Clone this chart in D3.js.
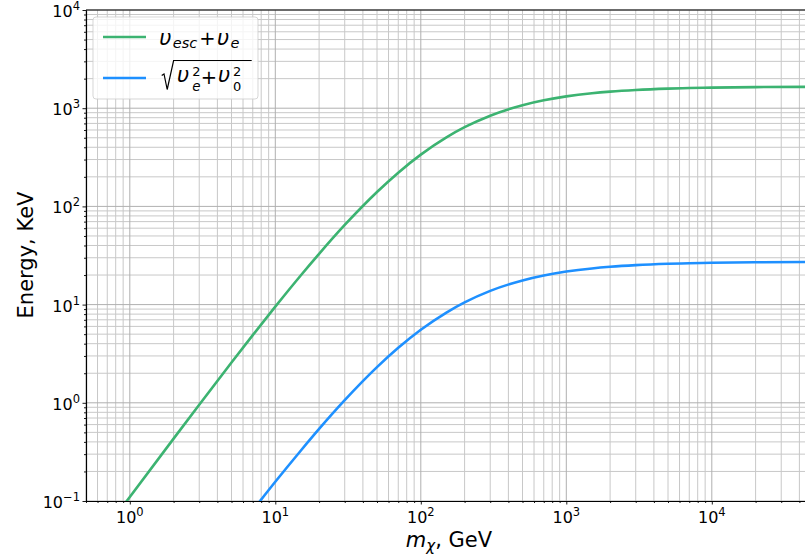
<!DOCTYPE html>
<html>
<head>
<meta charset="utf-8">
<script src="https://cdn.jsdelivr.net/npm/d3@7"></script>
<style>
  html, body { margin: 0; padding: 0; background: #fff; }
  svg { display: block; font-family: "DejaVu Sans", sans-serif; }
</style>
</head>
<body>
<svg id="chart" width="805" height="557"></svg>
<script>
// ---- data ----
const massGreen = [0.5, 1, 2, 3, 5, 7, 10, 15, 20, 30, 50, 70, 100, 150, 200, 300, 500, 700, 1000, 1500, 2000, 3000, 5000, 7000, 10000, 20000, 50000];
const energyGreen = [0.0277, 0.110, 0.432, 0.956, 2.57, 4.89, 9.53, 19.9, 32.9, 64.7, 140.3, 220.7, 336.8, 504.8, 640.4, 839.0, 1072.7, 1203.8, 1318.6, 1419.7, 1474.6, 1532.8, 1581.8, 1603.6, 1620.2, 1639.9, 1651.9];
const massBlue = [5, 7, 10, 15, 20, 30, 50, 70, 100, 150, 200, 300, 500, 700, 1000, 1500, 2000, 3000, 5000, 7000, 10000, 20000, 50000];
const energyBlue = [0.0423, 0.0804, 0.157, 0.327, 0.542, 1.063, 2.307, 3.629, 5.539, 8.302, 10.53, 13.80, 17.64, 19.80, 21.69, 23.35, 24.25, 25.21, 26.02, 26.37, 26.65, 26.97, 27.17];
const xMajorTicks = [1, 10, 100, 1000, 10000];
const xMajorExp = ["0", "1", "2", "3", "4"];
const yMajorTicks = [0.1, 1, 10, 100, 1000, 10000];
const yMajorExp = ["\u22121", "0", "1", "2", "3", "4"];
const xLabel = "GeV";
const yLabel = "Energy, KeV";

// ---- layout ----
const svg = d3.select("#chart");
const L = 86, T = 10, B = 501;
const x = d3.scaleLog().domain([0.5, 5e4]).range([L, L + 145.5 * 5]);
const y = d3.scaleLog().domain([0.1, 1e4]).range([B, T]);
const R = x(5e4);

function minorVals(lo, hi) {
  const out = [];
  for (let e = -2; e <= 5; e++) {
    for (let k = 1; k <= 9; k++) {
      const v = k * Math.pow(10, e);
      if (v >= lo * 0.9999 && v <= hi * 1.0001) out.push(v);
    }
  }
  return out;
}
const xMinor = minorVals(0.5, 5e4).filter(v => !xMajorTicks.some(t => Math.abs(t - v) / t < 1e-6));
const yMinor = minorVals(0.1, 1e4).filter(v => !yMajorTicks.some(t => Math.abs(t - v) / t < 1e-6));

// grid
const grid = svg.append("g");
grid.selectAll("line.xm").data(xMinor).enter().append("line")
  .attr("x1", d => x(d)).attr("x2", d => x(d)).attr("y1", T).attr("y2", B)
  .attr("stroke", "#c8c8c8").attr("stroke-width", 1);
grid.selectAll("line.ym").data(yMinor).enter().append("line")
  .attr("x1", L).attr("x2", R).attr("y1", d => y(d)).attr("y2", d => y(d))
  .attr("stroke", "#c8c8c8").attr("stroke-width", 1);
grid.selectAll("line.xM").data(xMajorTicks).enter().append("line")
  .attr("x1", d => x(d)).attr("x2", d => x(d)).attr("y1", T).attr("y2", B)
  .attr("stroke", "#b0b0b0").attr("stroke-width", 1);
grid.selectAll("line.yM").data(yMajorTicks).enter().append("line")
  .attr("x1", L).attr("x2", R).attr("y1", d => y(d)).attr("y2", d => y(d))
  .attr("stroke", "#b0b0b0").attr("stroke-width", 1);

// clip
svg.append("clipPath").attr("id", "clip").append("rect")
  .attr("x", L).attr("y", T).attr("width", R - L).attr("height", B - T);

const line = d3.line().x(d => x(d[0])).y(d => y(d[1])).curve(d3.curveMonotoneX);
const plot = svg.append("g").attr("clip-path", "url(#clip)");
plot.append("path").datum(massGreen.map((m, i) => [m, energyGreen[i]]))
  .attr("d", line).attr("fill", "none").attr("stroke", "#3cb371").attr("stroke-width", 2.6);
plot.append("path").datum(massBlue.map((m, i) => [m, energyBlue[i]]))
  .attr("d", line).attr("fill", "none").attr("stroke", "#1e90ff").attr("stroke-width", 2.6);

// axes
const xAxisMinor = d3.axisBottom(x).tickValues(xMinor).tickFormat("").tickSize(2).tickSizeOuter(0);
const xAxisMajor = d3.axisBottom(x).tickValues(xMajorTicks).tickFormat("").tickSize(3.5).tickSizeOuter(0);
const yAxisMinor = d3.axisLeft(y).tickValues(yMinor).tickFormat("").tickSize(2).tickSizeOuter(0);
const yAxisMajor = d3.axisLeft(y).tickValues(yMajorTicks).tickFormat("").tickSize(3.5).tickSizeOuter(0);

function styleAxis(g) {
  g.selectAll("path.domain").attr("stroke", "#000").attr("stroke-width", 1.1);
  g.selectAll(".tick line").attr("stroke", "#000").attr("stroke-width", 0.9);
}
svg.append("g").attr("transform", `translate(0,${B})`).call(xAxisMinor).call(styleAxis);
svg.append("g").attr("transform", `translate(0,${B})`).call(xAxisMajor).call(styleAxis);
svg.append("g").attr("transform", `translate(${L},0)`).call(yAxisMinor).call(styleAxis);
svg.append("g").attr("transform", `translate(${L},0)`).call(yAxisMajor).call(styleAxis);
// top spine
svg.append("line").attr("x1", L).attr("x2", R).attr("y1", T).attr("y2", T)
  .attr("stroke", "#000").attr("stroke-width", 1.1);

// tick labels
const xl = svg.append("g").attr("font-size", 16).attr("fill", "#000");
xMajorTicks.forEach((v, i) => {
  const t = xl.append("text").attr("x", x(v)).attr("y", 523).attr("text-anchor", "middle");
  t.append("tspan").text("10");
  t.append("tspan").attr("font-size", 11.5).attr("dy", -7).text(xMajorExp[i]);
});
const yl = svg.append("g").attr("font-size", 16).attr("fill", "#000");
yMajorTicks.forEach((v, i) => {
  const t = yl.append("text").attr("x", 80).attr("y", y(v) + 7).attr("text-anchor", "end");
  t.append("tspan").text("10");
  t.append("tspan").attr("font-size", 11.5).attr("dy", -7).text(yMajorExp[i]);
});

// axis labels
const xt = svg.append("text").attr("x", 449).attr("y", 547).attr("text-anchor", "middle")
  .attr("font-size", 21).attr("fill", "#000");
xt.append("tspan").attr("font-style", "italic").text("m");
xt.append("tspan").attr("font-style", "italic").attr("font-size", 15).attr("dy", 4).text("\u03c7");
xt.append("tspan").attr("dy", -4).text(", " + xLabel);

svg.append("text").attr("transform", `translate(33,255) rotate(-90)`)
  .attr("text-anchor", "middle").attr("font-size", 21).attr("fill", "#000").text(yLabel);

// legend
const lg = svg.append("g").attr("fill", "#000");
lg.append("rect").attr("x", 93).attr("y", 17).attr("width", 165).attr("height", 82)
  .attr("rx", 3).attr("fill", "#fff").attr("fill-opacity", 0.8)
  .attr("stroke", "#cccccc").attr("stroke-opacity", 0.8).attr("stroke-width", 1);
lg.append("line").attr("x1", 103).attr("x2", 146).attr("y1", 37).attr("y2", 37)
  .attr("stroke", "#3cb371").attr("stroke-width", 2.6);
lg.append("line").attr("x1", 103).attr("x2", 146).attr("y1", 78).attr("y2", 78)
  .attr("stroke", "#1e90ff").attr("stroke-width", 2.6);

function piece(cx, py, txt, size, italic) {
  lg.append("text").attr("x", cx).attr("y", py).attr("font-size", size)
    .attr("text-anchor", "middle")
    .attr("font-style", italic ? "italic" : "normal").text(txt);
}
// first entry: υ_esc + υ_e
piece(165.3, 45, "\u03c5", 21, true);
piece(185, 47.5, "esc", 14.5, true);
piece(207.5, 45, "+", 19.5, false);
piece(223, 45, "\u03c5", 21, true);
piece(235, 47.5, "e", 14.5, true);

// second entry: sqrt(υ_e^2 + υ_0^2)
lg.append("path").attr("d", "M161.7,75.5 L164,74 L167.2,89.5 L173.6,60.5 L251.7,60.5")
  .attr("fill", "none").attr("stroke", "#000").attr("stroke-width", 1.2);
piece(183, 82, "\u03c5", 21, true);
piece(196.5, 76, "2", 13, false);
piece(196.5, 90.5, "e", 13.5, true);
piece(209, 83.5, "+", 19.5, false);
piece(224, 82, "\u03c5", 21, true);
piece(237.2, 76, "2", 13, false);
piece(237.2, 90.5, "0", 13, false);
</script>
</body>
</html>
